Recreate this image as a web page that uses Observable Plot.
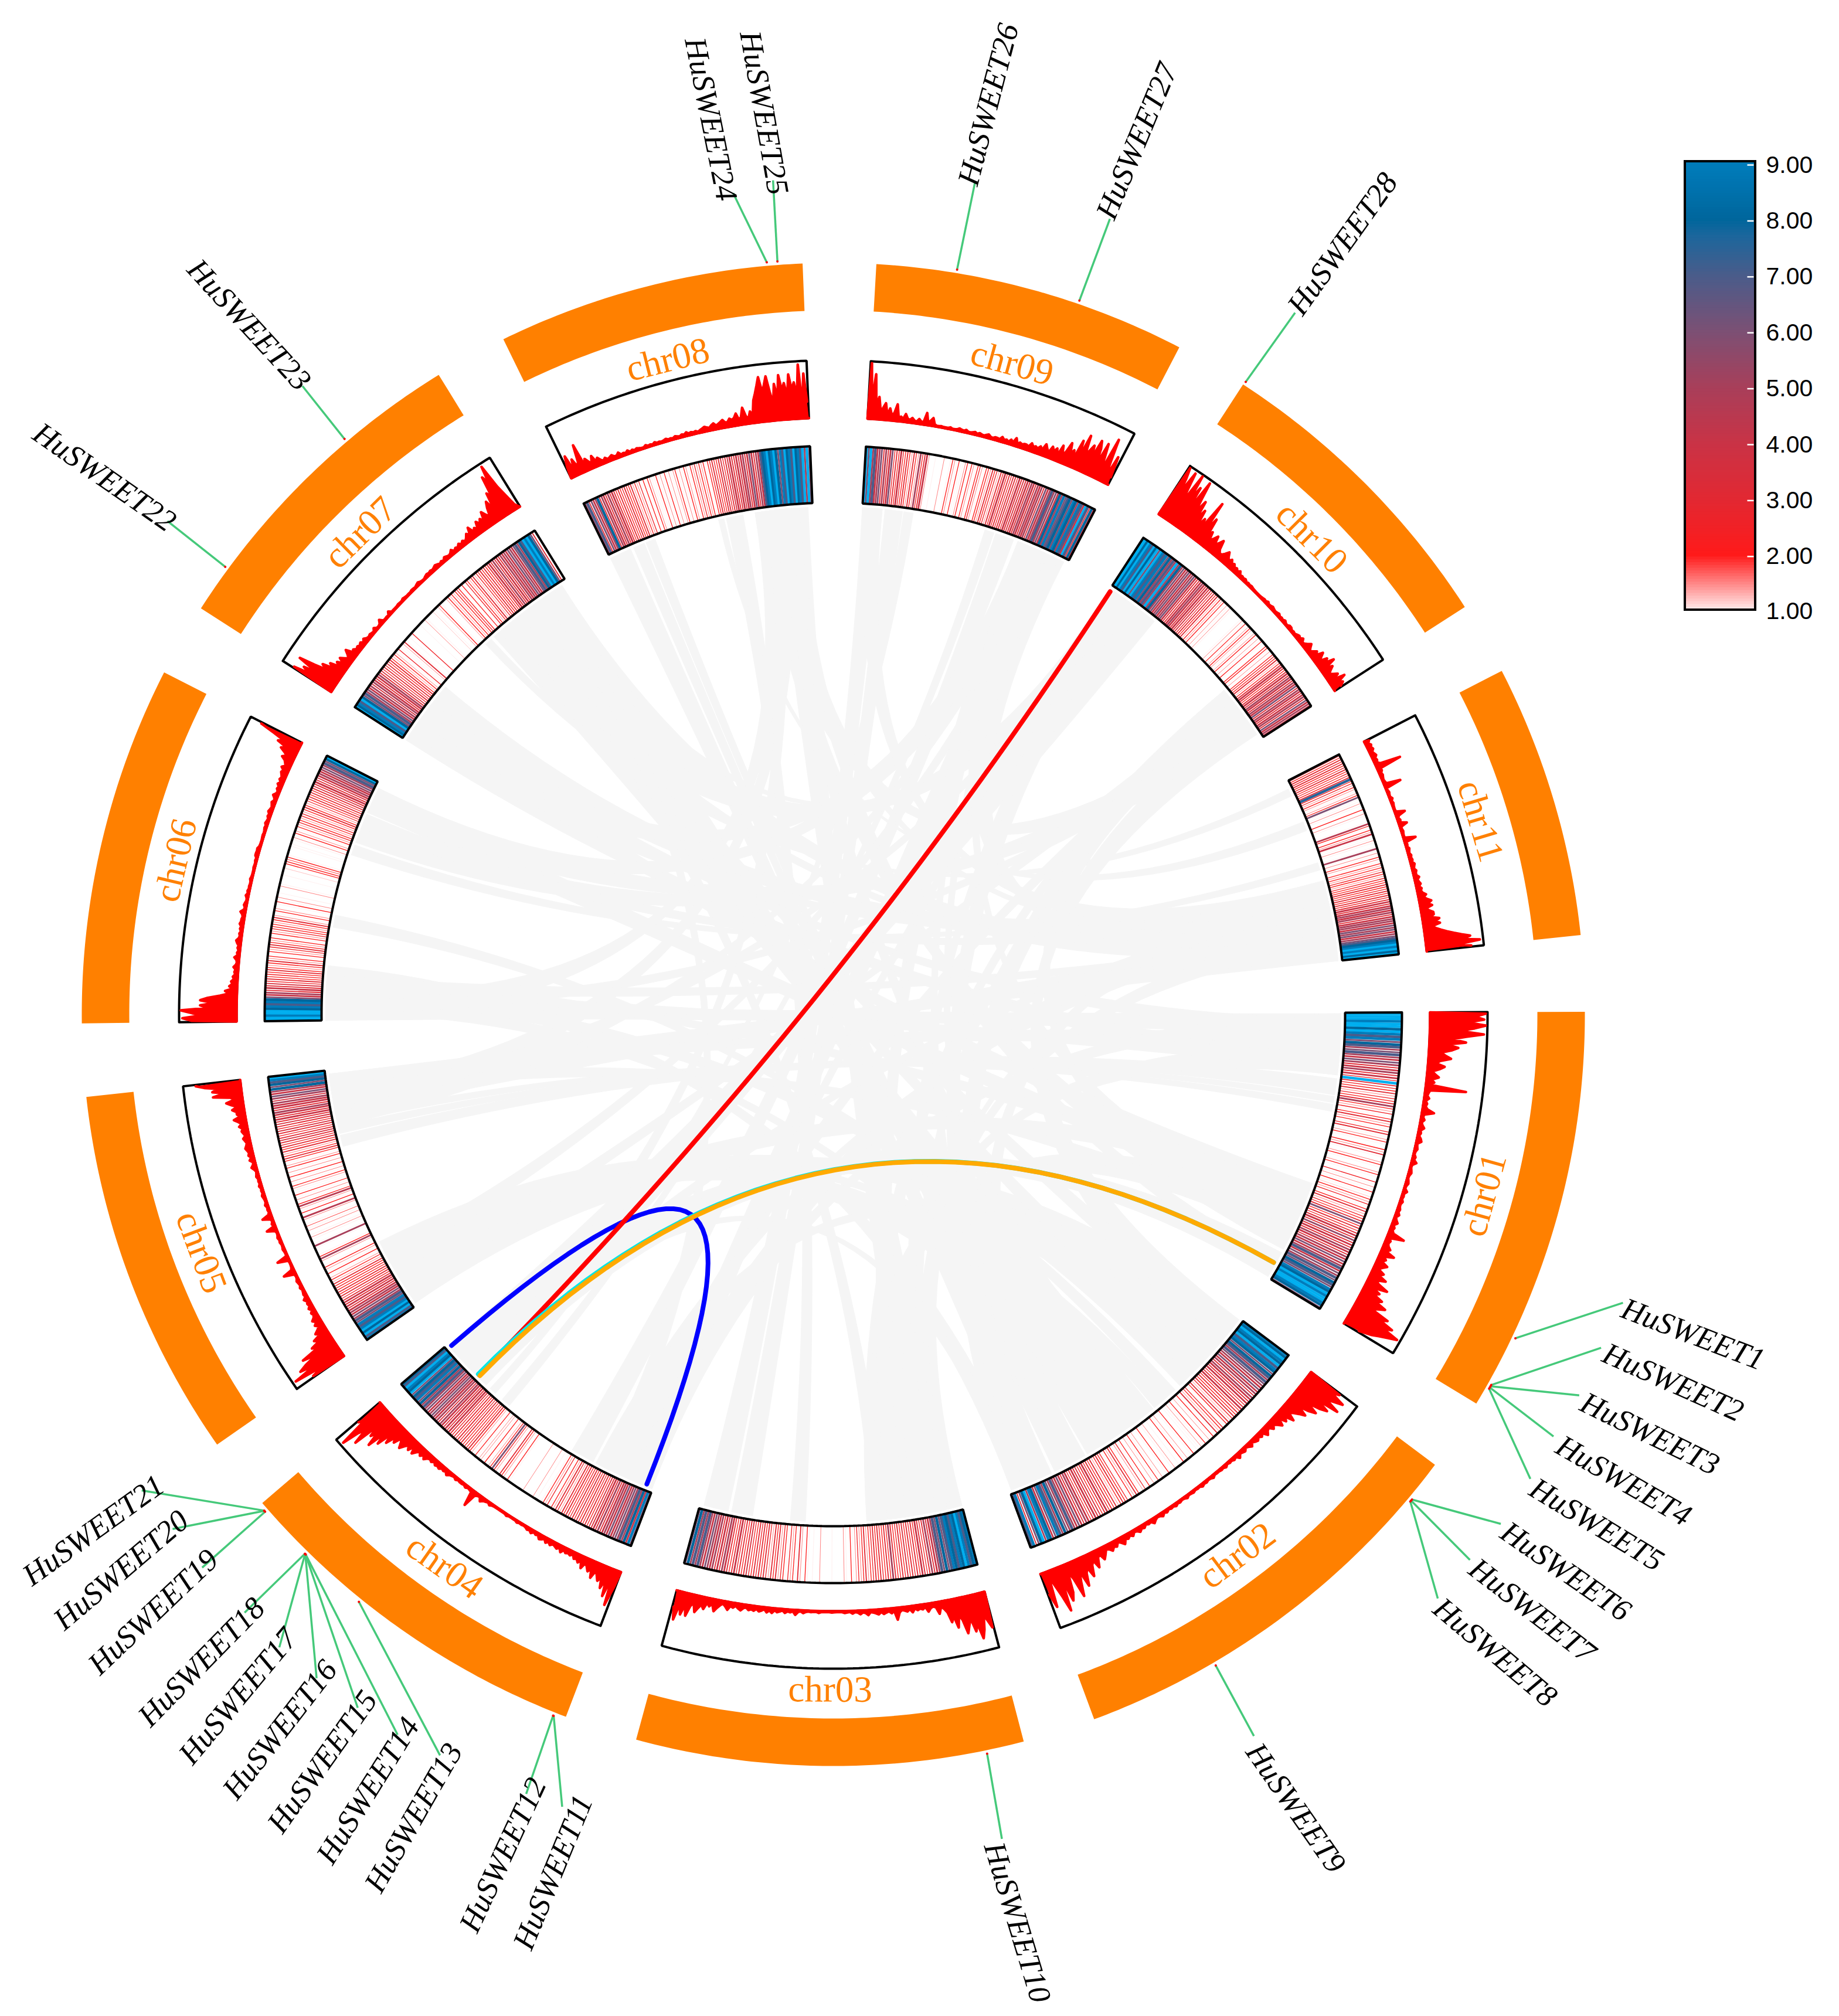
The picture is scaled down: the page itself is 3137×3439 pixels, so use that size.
<!DOCTYPE html>
<html>
<head>
<meta charset="utf-8">
<style>html,body{margin:0;padding:0;background:#fff}svg{display:block}</style>
<script src="https://cdn.jsdelivr.net/npm/d3@7"></script>
<script src="https://cdn.jsdelivr.net/npm/@observablehq/plot@0.6"></script>
</head>
<body>
<div id="chart"></div>
<script>
// ---------- data ----------
const chromNames = ["chr01","chr02","chr03","chr04","chr05","chr06","chr07","chr08","chr09","chr10","chr11"];
const chromLength = [147,154,140,134,134,130,120,111,113,113,99];

const density01 = [12,10,11,9,12,10,8,11,9,7,9,6,8,7,5,6,7,5,4,6,5,3,4,5,3,4,2.5,9.5,3,2.5,2,3,1.5,2.5,2,3,5,2,1.5,2.5,1,2,3,1.5,2,1,2.5,3,1,1.5,2,1,0.5,2,1.5,3,1,0.5,1.5,2,1,0,1.5,2,1,0.5,2.5,1,1.5,0.8,2,1,1.2,2,1.5,2.5,1,2,3,1.5,2.5,2,3,6,2,3,2.5,3,4,3,5.5,3,4,3,5,4,3,5,4,6,4,5,7,4,6,5,7,6,8,7,6,9,8,10,9,11,10,9,8,6];
const density02 = [9,8,10,9,8,10,7,9,8,6,8,7,5,7,6,5,4,6,4,5,3,5,4,3,4,2.5,3,4,2,3,2,3,2.5,1.5,3,2,1,2.5,2,1.5,3,1,2,1,1.5,0.5,2,1,1.5,0.8,1,0.5,2,1,0.5,1.5,1,2,0.5,1,0,1.5,1,0.5,2,1,0,1.5,1,2,1,1.5,0.5,2,1,2.5,1.5,1,2,3,1.5,2,1,2.5,2,3,2,1.5,3,2,3,2.5,4,3,2,3.5,3,4,3,2.5,4,5,3,4,6,4,5,7,5,6,8,5,7,9,6,4,8,9,5,10,8,6,3,9,7];
const density03 = [9,8,7,9,10,8,9,7,8,9,7,6,8,6,7,5,4,3,5,3,2.5,3,4,2,3,2.5,3,2,3.5,2,3,2.5,2,3,5,2,3,2,2.5,3,2,3,2.5,2,1.5,3,2,1.5,2.5,1.5,1,2,0.5,1,1.5,0.5,0,0,0.5,1,0,0,0,0,1.5,0,0.5,1,0,1,2,0.5,1.5,3,1,2,1.5,2.5,1,2,2.5,1.5,3,2,3,1.5,2.5,3,2,3,2.5,3,2,2.5,3.5,3,2,3,2.5,4,3,2,3,4,5,3,4,3,5,4,5,6,4,5,7,5,7,5,8,6];
const density04 = [6,9,4,8,5,7,5,6,5,4,6,4,5,4,3,5,3,4,3,3.5,2,3,2.5,3,2,3.5,2,3,2.5,2,3,2,3,1.5,2.5,3,1.5,2,1,2.5,1.5,2,1,0,1,0.5,1.5,0,0,0,0,1.5,0,0,0,0,0,0.5,1,2,0.5,1.5,2,3,1,1.5,2.5,6,2,1.5,1,2,1,1.5,1.5,1,2,1,1.5,2,3,2,2.5,2,3,2.5,3,2,3,2.5,3,4,3,4,3,4,5,3,5,4,5,6,5,4,6,5,7,5,8,6,9,7,8,6,10,8,9,11,7,8];
const density05 = [9,7,11,8,10,9,7,9,6,7,5,6,4,5,4,3,4,3,4,3,2.5,3,2,3,2,2.5,2,3,1.5,2,1.5,1,2,1,1.5,2,1,0.5,1.5,5,2,1,0.5,0,1,5,1,0.5,1,1.5,0.8,0.5,1.5,1,1.8,1,0.5,1.5,4.5,1,2,1,1.5,4.5,2,1,1.5,1,2,1,1,1.5,2,1,1.5,1,2,1,1.5,1,2,1.5,1,2,3,2,1.5,3,2,3,2.5,3,3.5,3,2.5,3,3.5,2.5,3,3.5,3,4,3,4,5,3,4,4,5,3.5,5,6,4,5,8,6,8,7,9,10];
const density06 = [10,11,9,10,12,8,9,7,9,8,6,4,5,3,4,3,3.5,2.5,3,2,2.5,2,3,2,1.5,2,3,1.5,2,1,2,1.5,2.5,3,2,1.5,2,1,2,1.5,2.5,2,2,1.5,2,3,1.5,1,2,1.5,0.5,1,2,0.8,1.5,0.5,1,0,0.5,1.5,0.8,0,0,0,1,0.5,0,1.2,0.5,2,2,1.8,2,1,0.5,0,0,0.8,1,0,1,1.5,1,2,1.5,1,2,1.5,2.5,2,1.5,2,2.5,1.5,2,3,2,1.5,2.5,2,3,2,3,2.5,3,3.5,3,4,3,3.5,4,5,4,5,6,5,7,6,8,10];
const density07 = [10,8,9,7,10,8,6,7,5,6,4,5,3.5,5,4,3,4,5,3,3.5,2.5,3,2.5,3,2,3,2,1.5,2,1.5,1,2.5,1,0.8,1.5,3,1,0.5,1,0,2.5,0,0.5,0,0,1,0.5,0,1.5,1,0,0.5,0,1.2,1,0.5,1.5,2,1,0,0,1.5,2,1.5,2,1.5,2,2.5,2,1,2,1,2.5,2,1.5,2,3,1.5,2.5,2,3,2,3,2,3,4,3,5,3,4,3,5,4,5,4,6,5,4,6,7,5,8,7,10,9,11,8,6,3,1];
const density08 = [5,7,3,6,4,5,8,3,5,4,3,5,3,4,3,2,3,2,2.5,3,2,2,3,1.5,2,1.5,2.5,1,2,1,2,1.5,1,0.8,2,1,1.5,0.8,2,1,1.5,1,1.5,2,1,1.5,1,2,1.5,1,2,1.5,2.5,1.5,2,1.5,2,1,2,2.5,3,2.5,2,3,3.5,2.5,3,3.5,4,3,3,4,3.5,4,5,3,4,6,4,3,5,4,7,8,9,10,8,9,10,8,6,9,7,10,8,9,7,10,8,9,7,11,5,10,6];
const density09 = [12,6,10,5,7,4,5,6,3,5,3,4,6,2.5,3,2,4,2.5,2,3,2,1.5,3,2,1.5,5,2,3,4,1.5,0,0.5,1,0,0,0,1.5,0,0,1,2,1.5,1,2,1,0.8,1.5,2,1,2,1.5,1,2,2.5,1.5,1,2,2,1.5,3,2,2.5,1.5,3,2,4,2,3,2.5,3,3,2.5,4,3,3.5,3,4,3,5,4,3,5,4,5,3,6,4,5,7,5,6,4,8,5,9,6,7,8,6,9,8,5,9,7,4,10,7,3,8,4];
const density10 = [12,10,8,11,9,7,12,8,10,6,11,9,7,9,6,8,5,7,5,10,5,8,5,6,4,5,6,4,5,6,4,3,3,4,5,4,3,4,3,3.5,2.5,3,2,3,1.5,2,1.5,2,1,1.5,1,1.5,1,0.5,0,0,0,0.5,1,1.5,1,2,1,1.5,2,1.5,1,1.5,2,1,1.5,1,2,1,0.5,2,2,1,1.5,1,2,2.5,2,3,1.5,2,3,4,3,2,3,4,3,5,4,3,5,4,6,3,5,4,3,4,5,3,6,4,5,4];
const density11 = [3,2,3,2.5,3,2,2.5,3,2,2.5,2,3,7.5,2,2.5,1.5,2,1.5,1,1.5,2,6,1,0.8,1.5,1,0,2,0.5,1.5,1,0.5,0,1,4.5,2,1,2,1.5,4,0.8,1,1.5,1,0.5,1,5,1,1.5,1,2,1.5,1,2,1.5,2,1.5,2.5,2,1.5,2.5,2,2,3,2,2.5,3,2,3,2.5,3,4,3,4,5,4,5,3,4,5,5,4,6,5,6,4,5,6,7,8,9,10,9,11,8,10];
const densities = [density01,density02,density03,density04,density05,density06,density07,density08,density09,density10,density11];

// syntenic blocks: chromosome A, start, end (Mb) and chromosome B, start, end (Mb)
const syntenyBlocks = [
  [0,0.5,12, 5,0,10],[0,12,22, 4,122,132],[0,22,33, 6,0,10],[0,35,43.6, 4,93,99],[0,44.5,47.8, 4,100,104],[0,48.7,52.5, 4,105,109],
  [0,92,104, 6,10,20],[0,104,116, 5,113,127],[0,116,130, 7,80.5,90],[0,132,140, 3,120,133],[0,140,146.5, 3,104.4,120],
  [1,0.7,15, 4,1.5,14],[1,15,32, 4,14,27],[1,32,47.6, 5,10,19],[1,50.9,58, 5,49.5,56],[1,58,65.4, 4,27,39],
  [1,66.3,80, 6,72,85],[1,80,95, 6,85,100],[1,95,108.5, 6,100,117],[1,110,120, 7,20.6,25.7],[1,120,128, 7,13.5,19.6],
  [1,130,142, 7,0,11.7],[1,142,153, 5,19,29],
  [2,0,14, 7,90,100],[2,14,26, 7,100,108.6],[2,26,38, 8,84.5,95],[2,38,51, 9,81,88],[2,83.5,91.5, 7,65,74],
  [2,111.6,122.9, 8,12,21.3],[2,124.7,137.9, 8,0,10.5],
  [3,0.4,14, 8,95,111],[3,14,25, 9,88,95],[3,25,33, 10,75,82],[3,34.6,47.3, 8,72,82],[3,88,93, 8,66,71],[3,97.8,101.6, 8,22,27],
  [3,104.4,120, 9,0,15],[3,120,133.4, 9,15,29],
  [4,110,120, 10,82,90],[4,120,132, 10,90,99],
  [5,89,94.5, 10,46,50],[5,96,109.5, 9,96,103],[5,113,127, 9,103,110],
  [6,20,35, 10,56,66],[6,66,70, 10,4,8],[7,60.8,63.7, 10,23,28],[10,66,75, 6,25,35],
  [0,0.5,10, 3,0.4,10],[0,20,33, 2,26,38],[0,105,125, 2,38,51],[1,20,40, 3,25,33],[1,70,100, 4,14,30],[1,110,128, 10,56,66],
  [1,130,153, 9,81,95],[2,0,14, 10,82,92],[2,26,38, 0,116,125],[3,0.4,14, 10,60,72],[4,1.5,20, 0,92,104],[4,110,125, 7,90,100],
  [5,0,15, 7,80.5,92],[5,113,127, 8,84.5,100],[6,0,18, 8,84.5,98],[6,72,100, 9,0,15],[6,100,117, 10,75,90],[7,80.5,100, 9,96,110],
  [8,0,10.5, 10,56,70],[8,84.5,111, 10,85,99],[9,0,15, 1,130,145],[9,81,95, 0,116,130],[9,96,110, 1,0.7,20],
  [0,3,12, 6,18,24],[0,22,31, 5,12,18],[0,96,106, 5,20,26],[0,118,126, 4,118,126],[0,136,144, 7,96,104],
  [1,5,15, 6,92,100],[1,30,40, 6,76,84],[1,72,82, 7,92,100],[1,94,102, 5,4,12],[1,114,122, 8,100,106],[1,134,142, 8,90,96],[1,145,152, 3,110,118],
  [2,4,14, 9,4,10],[2,30,40, 8,92,100],[2,6,14, 10,64,70],[2,40,48, 6,90,98],
  [3,110,118, 7,86,94],[3,108,116, 10,66,72],[3,4,12, 9,2,8],[3,22,30, 6,105,112],
  [4,6,14, 9,86,92],[4,26,34, 8,102,108],[4,114,122, 9,4,10],[4,104,112, 8,94,100],
  [5,4,12, 9,100,106],[5,16,24, 10,84,90],[5,104,112, 10,62,68],[6,4,12, 10,60,66],[6,80,88, 10,85,92],[6,106,112, 9,4,10],
  [7,90,98, 10,68,74],[8,92,100, 0,110,118],[9,88,96, 2,8,14]
];

// highlighted gene pairs, drawn in this order: chromosome A, Mb, chromosome B, Mb, colour
const highlightChromA = [3,9,0,0];
const highlightPosA   = [132.2,0.8,138.6,138.6];
const highlightChromB = [3,3,3,3];
const highlightPosB   = [3.8,110.8,111.4,110.2];
const highlightColor  = ["#0000ff","#ff0000","#00e6e6","#ffaa00"];

const geneNames = d3.range(1,29).map(i => "HuSWEET" + i);
const geneChrom = [0,0,0,0,0,1,1,1,1,2,3,3,3,3,3,3,3,3,3,3,3,6,6,7,7,8,8,9];
const genePos   = [119.9,138.6,139.1,139.6,140.1,14.8,15.3,15.7,106.6,13.7,4.2,4.4,84.7,110.0,110.1,110.2,110.3,110.4,131.0,131.4,131.5,17.1,79.4,98.3,102.1,28.8,73.7,0.3];

const legendTicks = [1,2,3,4,5,6,7,8,9];
const colorDomain = [1,2,3,4,5,6,7,7.7,8,9,9.01,13];
const colorRange  = ["#fff0f0","#ff1a1a","#e22832","#c93346","#a83f5a","#7c5074","#4a5c8a","#1c669c","#00669c","#007cbb","#00aeef","#00aeef"];

// ---------- layout ----------
const W = 3137, H = 3439, CX = 1421, CY = 1730;
const DISPLAY = 2.1933;                // label layout units -> px
const GAP = 5.63, K = 0.2135, BASE = -0.2;
const R = {ribbon:866, link:862, heatIn:873, heatOut:970, lineIn:1018, lineOut:1116, label:1152, ringIn:1201, ringOut:1282, gene:1288};

// reading-order ends of every gene label, and the end of its leader line
const labelSpan = [[1258,1015,1375,1060],[1245,1050,1357,1100],[1228,1088,1338,1142],[1208,1120,1317,1183],[1188,1153,1295,1218],[1167,1187,1268,1257],[1143,1215,1240,1290],[1115,1245,1210,1325],[972,1355,1043,1457],[772,1432,810,1558],[405,1517,455,1395],[362,1505,420,1380],[288,1472,355,1355],[250,1450,322,1335],[210,1427,291,1313],[175,1400,260,1290],[140,1373,230,1265],[108,1342,205,1243],[68,1302,170,1205],[40,1267,148,1175],[17,1230,128,1150],[25,332,137,410],[147,202,240,303],[540,30,565,155],[583,25,605,150],[752,145,785,17],[858,172,910,47],[1003,247,1085,132]];
const leaderEnd = [[1262,1013],[1245,1048],[1228,1085],[1208,1117],[1190,1150],[1167,1185],[1143,1213],[1118,1243],[975,1350],[779,1430],[437,1405],[409,1395],[342,1365],[309,1349],[278,1328],[246,1305],[217,1281],[190,1254],[157,1219],[134,1189],[110,1159],[130,405],[235,300],[570,150],[601,140],[758,142],[863,170],[1007,243]];

const chromStart = [];
chromLength.reduce((a, l, i) => (chromStart[i] = a, a + l * K + GAP), BASE);
const ang = (c, mb) => chromStart[c] + mb * K;
const pt = (deg, r) => { const t = deg * Math.PI / 180; return [CX + r * Math.cos(t), CY + r * Math.sin(t)]; };
const toPoint = ([x, y], extra) => ({x, y, ...extra});

function arc(c, a, b, r) {           // points along a chromosome between two Mb positions
  const n = Math.max(2, Math.ceil(Math.abs(b - a) * K) * 2);
  return d3.range(n + 1).map(i => pt(ang(c, a + (b - a) * i / n), r));
}
function bez(p0, p1) {               // quadratic curve with its control point in the circle's centre
  return d3.range(41).map(i => {
    const t = i / 40, u = 1 - t;
    return [u * u * p0[0] + 2 * u * t * CX + t * t * p1[0], u * u * p0[1] + 2 * u * t * CY + t * t * p1[1]];
  });
}
function band(c, r0, r1) {
  const L = chromLength[c];
  const o = arc(c, 0, L, r1), i = arc(c, L, 0, r0);
  return [...o, ...i, o[0]];
}
// density value -> height above the track's base
const lineHeight = v => Math.min(1.5 + 0.75 * v * v, R.lineOut - R.lineIn - 3);

const ribbonPts = syntenyBlocks.flatMap(([ca, a1, a2, cb, b1, b2], id) => {
  const A = arc(ca, a1, a2, R.ribbon), B = arc(cb, b1, b2, R.ribbon);
  return [...A, ...bez(A[A.length - 1], B[0]), ...B, ...bez(B[B.length - 1], A[0])].map(p => toPoint(p, {id}));
});
const highlightPts = highlightChromA.flatMap((ca, i) =>
  bez(pt(ang(ca, highlightPosA[i]), R.link), pt(ang(highlightChromB[i], highlightPosB[i]), R.link))
    .map(p => toPoint(p, {id: i, color: highlightColor[i]})));

const stripeRows = densities.flatMap((vals, c) => vals.map((v, i) => {
  const a = ang(c, (i + 0.5) / vals.length * chromLength[c]);
  const [x1, y1] = pt(a, R.heatIn), [x2, y2] = pt(a, R.heatOut);
  return {x1, y1, x2, y2, v, w: v < 2 ? 1 : v < 3 ? 1.3 : v < 4 ? 1.8 : v < 7 ? 2.8 : 4.5};
})).filter(d => d.v >= 0.8);

const linePts = densities.flatMap((vals, c) => {
  const pts = vals.map((v, i) =>
    pt(ang(c, (i + 0.5) / vals.length * chromLength[c]), R.lineIn + lineHeight(v)));
  return [...arc(c, chromLength[c], 0, R.lineIn), ...pts].map(p => toPoint(p, {c}));
});

const bandPts = (r0, r1) => chromNames.flatMap((n, c) => band(c, r0, r1).map(p => toPoint(p, {c})));

const chromLabels = chromNames.map((name, c) => {
  const a = ang(c, chromLength[c] / 2);
  const [x, y] = pt(a, R.label);
  const norm = (a + 360) % 360;
  return {name, x, y, rot: norm < 180 ? norm - 90 : norm - 270};
});

const geneRows = geneNames.map((name, i) => {
  const a = ang(geneChrom[i], genePos[i]);
  const [x1, y1] = pt(a, R.gene);
  const [lx1, ly1, lx2, ly2] = labelSpan[i];
  return {
    name, x1, y1,
    x2: leaderEnd[i][0] * DISPLAY, y2: leaderEnd[i][1] * DISPLAY,
    lx: (lx1 + lx2) / 2 * DISPLAY, ly: (ly1 + ly2) / 2 * DISPLAY,
    rot: Math.atan2(ly2 - ly1, lx2 - lx1) * 180 / Math.PI
  };
});

// colour bar
const barY = v => 281 + (9 - v) * 95.4;
const barL = 2874, barR = 2994, barTop = 275, barBottom = 1040;
const barSteps = d3.range(1, 9, 0.05).map(v => ({
  v,
  y1: v + 0.05 >= 9 ? barTop : barY(v + 0.05) - 0.5,
  y2: Math.min(barY(v) + 0.5, barBottom)
}));

const chart = Plot.plot({
  width: W, height: H, margin: 0,
  style: {background: "#fff"},
  x: {domain: [0, W], range: [0, W], axis: null},
  y: {domain: [0, H], range: [0, H], axis: null},
  color: {type: "linear", domain: colorDomain, range: colorRange, clamp: true, legend: false},
  marks: [
    Plot.line(ribbonPts, {x: "x", y: "y", z: "id", fill: "#f5f5f5", stroke: "#f5f5f5", strokeWidth: 1, curve: "linear"}),
    Plot.line(highlightPts, {x: "x", y: "y", z: "id", stroke: d => d.color, strokeWidth: 8, strokeLinecap: "round", curve: "linear"}),
    Plot.link(stripeRows, {x1: "x1", y1: "y1", x2: "x2", y2: "y2", stroke: "v", strokeWidth: d => d.w, curve: "linear"}),
    Plot.line(bandPts(R.heatIn, R.heatOut), {x: "x", y: "y", z: "c", stroke: "#000", strokeWidth: 4, fill: "none", curve: "linear", strokeLinejoin: "miter"}),
    Plot.line(bandPts(R.lineIn, R.lineOut), {x: "x", y: "y", z: "c", stroke: "#000", strokeWidth: 4, fill: "none", curve: "linear", strokeLinejoin: "miter"}),
    Plot.line(linePts, {x: "x", y: "y", z: "c", fill: "#ff0000", stroke: "#ff0000", strokeWidth: 4.5, curve: "linear", strokeLinejoin: "round"}),
    Plot.line(bandPts(R.ringIn, R.ringOut), {x: "x", y: "y", z: "c", fill: "#ff8000", stroke: "none", curve: "linear"}),
    Plot.text(chromLabels, {x: "x", y: "y", text: "name", rotate: "rot", fill: "#ff8000", fontFamily: "Liberation Serif", fontSize: 63, textAnchor: "middle"}),
    Plot.link(geneRows, {x1: "x1", y1: "y1", x2: "x2", y2: "y2", stroke: "#45c97a", strokeWidth: 3.5, curve: "linear"}),
    Plot.dot(geneRows, {x: "x1", y: "y1", r: 2, fill: "#ff0000"}),
    Plot.text(geneRows, {x: "lx", y: "ly", text: "name", rotate: "rot", fill: "#000", fontFamily: "Liberation Serif", fontStyle: "italic", fontSize: 53, textAnchor: "middle"}),
    Plot.rect(barSteps, {x1: () => barL, x2: () => barR, y1: "y1", y2: "y2", fill: "v"}),
    Plot.rect([0], {x1: () => barL, x2: () => barR, y1: () => barTop, y2: () => barBottom, fill: "none", stroke: "#000", strokeWidth: 4}),
    Plot.link(legendTicks.slice(1), {x1: () => barR - 14, x2: () => barR - 3, y1: v => barY(v), y2: v => barY(v), stroke: "#fff", strokeWidth: 2.5}),
    Plot.text(legendTicks, {x: () => 3012, y: v => v === 1 ? barY(v) - 2 : barY(v), text: v => v.toFixed(2), fill: "#000", fontFamily: "Liberation Sans", fontSize: 41, textAnchor: "start"})
  ]
});
document.getElementById("chart").appendChild(chart);
</script>
</body>
</html>
